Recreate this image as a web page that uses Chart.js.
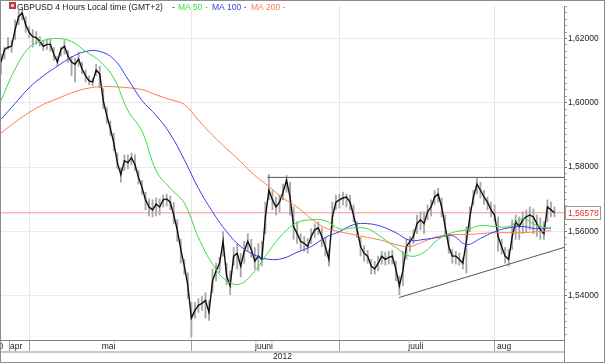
<!DOCTYPE html>
<html>
<head>
<meta charset="utf-8">
<script src="https://cdn.jsdelivr.net/npm/chart.js@4.4.0/dist/chart.umd.min.js"></script>
<style>
  body { margin: 0; background: #fff; }
  #wrap { width: 605px; height: 363px; }
</style>
</head>
<body>
<div id="wrap"><canvas id="chart" width="605" height="363"></canvas></div>
<script>
// GBPUSD 4h, every half trading day (x = half-day index)
const closes = [
  1.6127, 1.6166, 1.6173, 1.6176, 1.6228, 1.6268, 1.6280, 1.6243, 1.6219, 1.6206,
  1.6203, 1.6191, 1.6176, 1.6182, 1.6182, 1.6151, 1.6127, 1.6166, 1.6176, 1.6145,
  1.6127, 1.6120, 1.6136, 1.6105, 1.6084, 1.6068, 1.6065, 1.6102, 1.6090, 1.6007,
  1.5961, 1.5921, 1.5875, 1.5814, 1.5777, 1.5820, 1.5814, 1.5829, 1.5808, 1.5768,
  1.5737, 1.5698, 1.5676, 1.5667, 1.5685, 1.5676, 1.5698, 1.5701, 1.5691, 1.5651,
  1.5605, 1.5544, 1.5492, 1.5431, 1.5330, 1.5354, 1.5370, 1.5376, 1.5385, 1.5348,
  1.5446, 1.5477, 1.5501, 1.5569, 1.5461, 1.5431, 1.5523, 1.5532, 1.5492, 1.5538,
  1.5569, 1.5544, 1.5507, 1.5523, 1.5513, 1.5645, 1.5728, 1.5698, 1.5676, 1.5691,
  1.5722, 1.5759, 1.5707, 1.5615, 1.5593, 1.5569, 1.5563, 1.5553, 1.5584, 1.5605,
  1.5611, 1.5584, 1.5553, 1.5513, 1.5645, 1.5691, 1.5698, 1.5704, 1.5707, 1.5691,
  1.5651, 1.5605, 1.5553, 1.5532, 1.5523, 1.5492, 1.5483, 1.5501, 1.5523, 1.5513,
  1.5519, 1.5523, 1.5483, 1.5431, 1.5477, 1.5553, 1.5569, 1.5584, 1.5624, 1.5636,
  1.5624, 1.5661, 1.5676, 1.5707, 1.5716, 1.5676, 1.5615, 1.5553, 1.5523, 1.5523,
  1.5513, 1.5501, 1.5569, 1.5645, 1.5707, 1.5747, 1.5728, 1.5707, 1.5691, 1.5667,
  1.5651, 1.5584, 1.5553, 1.5523, 1.5513, 1.5584, 1.5630, 1.5615, 1.5636, 1.5645,
  1.5651, 1.5645, 1.5624, 1.5605, 1.5593, 1.5676, 1.5667, 1.5658
];
const highs = [
  1.6151, 1.6173, 1.6203, 1.6194, 1.6258, 1.6289, 1.6292, 1.6268, 1.6237, 1.6228,
  1.6222, 1.6206, 1.6194, 1.6197, 1.6197, 1.6172, 1.6145, 1.6173, 1.6194, 1.6163,
  1.6145, 1.6139, 1.6157, 1.6127, 1.6102, 1.6084, 1.6077, 1.6120, 1.6114, 1.6044,
  1.5985, 1.5943, 1.5906, 1.5844, 1.5798, 1.5838, 1.5838, 1.5844, 1.5838, 1.5789,
  1.5759, 1.5722, 1.5701, 1.5698, 1.5704, 1.5701, 1.5713, 1.5716, 1.5710, 1.5691,
  1.5636, 1.5575, 1.5513, 1.5471, 1.5379, 1.5379, 1.5391, 1.5397, 1.5409, 1.5385,
  1.5483, 1.5501, 1.5519, 1.5599, 1.5501, 1.5477, 1.5550, 1.5562, 1.5532, 1.5569,
  1.5593, 1.5575, 1.5550, 1.5562, 1.5569, 1.5691, 1.5777, 1.5728, 1.5707, 1.5713,
  1.5747, 1.5774, 1.5753, 1.5676, 1.5630, 1.5593, 1.5584, 1.5578, 1.5608, 1.5624,
  1.5630, 1.5611, 1.5581, 1.5544, 1.5691, 1.5713, 1.5716, 1.5722, 1.5716, 1.5713,
  1.5682, 1.5630, 1.5581, 1.5556, 1.5541, 1.5513, 1.5507, 1.5523, 1.5538, 1.5535,
  1.5538, 1.5541, 1.5507, 1.5461, 1.5538, 1.5575, 1.5584, 1.5605, 1.5651, 1.5661,
  1.5661, 1.5682, 1.5698, 1.5728, 1.5734, 1.5704, 1.5651, 1.5593, 1.5544, 1.5538,
  1.5532, 1.5519, 1.5615, 1.5676, 1.5728, 1.5765, 1.5753, 1.5728, 1.5707, 1.5691,
  1.5682, 1.5645, 1.5575, 1.5550, 1.5544, 1.5636, 1.5651, 1.5645, 1.5661, 1.5667,
  1.5676, 1.5670, 1.5651, 1.5642, 1.5630, 1.5698, 1.5691, 1.5676
];
const lows = [
  1.6090, 1.6136, 1.6166, 1.6157, 1.6197, 1.6243, 1.6258, 1.6219, 1.6203, 1.6173,
  1.6182, 1.6176, 1.6163, 1.6166, 1.6160, 1.6133, 1.6114, 1.6145, 1.6151, 1.6127,
  1.6084, 1.6065, 1.6114, 1.6090, 1.6065, 1.6056, 1.6053, 1.6084, 1.6047, 1.5982,
  1.5936, 1.5899, 1.5851, 1.5795, 1.5753, 1.5789, 1.5795, 1.5808, 1.5789, 1.5747,
  1.5716, 1.5667, 1.5648, 1.5645, 1.5648, 1.5651, 1.5676, 1.5679, 1.5667, 1.5624,
  1.5569, 1.5501, 1.5467, 1.5391, 1.5271, 1.5330, 1.5348, 1.5354, 1.5330, 1.5323,
  1.5409, 1.5446, 1.5471, 1.5523, 1.5434, 1.5403, 1.5495, 1.5483, 1.5458, 1.5501,
  1.5538, 1.5519, 1.5483, 1.5477, 1.5492, 1.5593, 1.5698, 1.5667, 1.5651, 1.5661,
  1.5698, 1.5722, 1.5651, 1.5575, 1.5562, 1.5544, 1.5538, 1.5532, 1.5562, 1.5581,
  1.5590, 1.5553, 1.5523, 1.5492, 1.5605, 1.5667, 1.5673, 1.5682, 1.5676, 1.5667,
  1.5630, 1.5581, 1.5523, 1.5507, 1.5501, 1.5467, 1.5467, 1.5477, 1.5498, 1.5495,
  1.5498, 1.5498, 1.5446, 1.5403, 1.5431, 1.5513, 1.5538, 1.5562, 1.5593, 1.5605,
  1.5593, 1.5636, 1.5648, 1.5685, 1.5691, 1.5645, 1.5584, 1.5532, 1.5501, 1.5498,
  1.5495, 1.5483, 1.5471, 1.5599, 1.5682, 1.5716, 1.5704, 1.5685, 1.5667, 1.5645,
  1.5630, 1.5538, 1.5529, 1.5501, 1.5492, 1.5544, 1.5575, 1.5575, 1.5593, 1.5599,
  1.5605, 1.5593, 1.5584, 1.5575, 1.5575, 1.5630, 1.5645, 1.5645
];

// moving averages, read every 4th half-day
const maStep = 4;
const ma50 = [
  1.6007, 1.6105, 1.6172, 1.6194, 1.6200, 1.6191, 1.6160, 1.6130, 1.6077, 1.5976,
  1.5912, 1.5789, 1.5734, 1.5688, 1.5581, 1.5498, 1.5446, 1.5437, 1.5477, 1.5538,
  1.5593, 1.5627, 1.5636, 1.5633, 1.5608, 1.5611, 1.5608, 1.5581, 1.5550, 1.5523,
  1.5535, 1.5575, 1.5596, 1.5605, 1.5618, 1.5615, 1.5615, 1.5639, 1.5618, 1.5608
];
const ma100 = [
  1.5949, 1.5998, 1.6047, 1.6084, 1.6114, 1.6142, 1.6160, 1.6160, 1.6136, 1.6074,
  1.6007, 1.5961, 1.5903, 1.5823, 1.5734, 1.5661, 1.5599, 1.5553, 1.5526, 1.5513,
  1.5516, 1.5535, 1.5553, 1.5581, 1.5599, 1.5621, 1.5624, 1.5615, 1.5596, 1.5572,
  1.5575, 1.5581, 1.5587, 1.5559, 1.5578, 1.5599, 1.5611, 1.5615, 1.5608, 1.5611
];
const ma200 = [
  1.5906, 1.5940, 1.5970, 1.5995, 1.6013, 1.6031, 1.6044, 1.6050, 1.6050, 1.6047,
  1.6041, 1.6025, 1.6010, 1.5995, 1.5946, 1.5899, 1.5857, 1.5817, 1.5774, 1.5740,
  1.5703, 1.5676, 1.5639, 1.5611, 1.5599, 1.5590, 1.5581, 1.5572, 1.5559, 1.5553,
  1.5569, 1.5584, 1.5590, 1.5590, 1.5593, 1.5596, 1.5596, 1.5596, 1.5599, 1.5602
];

const lastPrice = 1.56578;
// drawn trend lines: [x, price] end points
const resistance = [[75.5, 1.5768], [159.7, 1.5768]];
const support = [[112.9, 1.5394], [159.7, 1.5550]];

const monthBounds = [2.3, 8, 54, 96, 140];
const monthLabels = ['30', 'apr', 'mai', 'juuni', 'juuli', 'aug'];
const monthLabelAt = [-0.7, 4.3, 30.5, 74.6, 117.7, 142.7];
const yearLabel = '2012';
const yMajor = [1.54, 1.56, 1.58, 1.60, 1.62];

const green = '#3ddc3d';
const blue = '#3b3bf2';
const orange = '#ff7b4a';
const FONT = '"Liberation Sans", Arial, sans-serif';

Chart.defaults.font.family = FONT;
Chart.defaults.font.size = 8.5;
Chart.defaults.color = '#222';

function isMajor(v) {
  return yMajor.some(m => Math.abs(m - v) < 1e-6);
}
function fmt(v) {
  return v.toFixed(5).replace('.', ',');
}
function pts(arr) {
  return arr.map(p => ({ x: p[0], y: p[1] }));
}

// title, price box and frame
const decor = {
  id: 'decor',
  afterDraw(chart) {
    const ctx = chart.ctx;
    const y = chart.scales.y;
    ctx.save();
    // frame
    ctx.strokeStyle = '#8c8c8c';
    ctx.lineWidth = 1;
    ctx.strokeRect(0.5, 0.5, 604, 362);
    ctx.beginPath();
    ctx.moveTo(chart.chartArea.right + 0.5, chart.chartArea.bottom);
    ctx.lineTo(chart.chartArea.right + 0.5, 363);
    ctx.stroke();

    // title
    ctx.fillStyle = '#b43c3c';
    ctx.fillRect(9, 2, 7, 7);
    ctx.fillStyle = '#f0c0c0';
    ctx.fillRect(11, 4, 3, 3);
    ctx.font = '8.5px ' + FONT;
    ctx.textBaseline = 'alphabetic';
    ctx.textAlign = 'left';
    const pieces = [
      ['GBPUSD 4 Hours Local time (GMT+2)', '#222', 17],
      ['-', '#222', 172],
      ['MA 50 -', green, 178],
      ['MA 100 -', blue, 212],
      ['MA 200 -', orange, 251]
    ];
    pieces.forEach(p => {
      ctx.fillStyle = p[1];
      ctx.fillText(p[0], p[2], 10);
    });

    // last price box
    const py = Math.round(y.getPixelForValue(lastPrice));
    ctx.fillStyle = '#fff';
    ctx.fillRect(566, py - 7, 35, 14);
    ctx.strokeStyle = '#999';
    ctx.strokeRect(565.5, py - 6.5, 35, 13);
    ctx.fillStyle = '#ee3030';
    ctx.textBaseline = 'middle';
    ctx.fillText(fmt(lastPrice), 568, py + 0.5);
    ctx.restore();
  }
};

const ctx = document.getElementById('chart').getContext('2d');
new Chart(ctx, {
  type: 'line',
  data: {
    datasets: [
      {
        label: 'last',
        data: [{ x: 0, y: lastPrice }, { x: 159.7, y: lastPrice }],
        borderColor: '#f29494',
        borderWidth: 1,
        pointRadius: 0,
        order: 6
      },
      {
        type: 'bar',
        label: 'range',
        data: highs.map((h, i) => ({ x: i, y: [lows[i], h] })),
        backgroundColor: '#a8a8a8',
        barThickness: 1.2,
        order: 5
      },
      {
        label: 'close',
        data: closes.map((c, i) => ({ x: i, y: c })),
        borderColor: '#111',
        borderWidth: 1.4,
        pointRadius: 0,
        order: 4
      },
      {
        label: 'MA 200',
        data: ma200.map((v, k) => ({ x: k * maStep, y: v })),
        borderColor: orange,
        borderWidth: 1,
        pointRadius: 0,
        tension: 0.4,
        order: 3
      },
      {
        label: 'MA 100',
        data: ma100.map((v, k) => ({ x: k * maStep, y: v })),
        borderColor: blue,
        borderWidth: 1,
        pointRadius: 0,
        tension: 0.4,
        order: 2
      },
      {
        label: 'MA 50',
        data: ma50.map((v, k) => ({ x: k * maStep, y: v })),
        borderColor: green,
        borderWidth: 1,
        pointRadius: 0,
        tension: 0.4,
        order: 1
      },
      {
        label: 'resistance',
        data: pts(resistance),
        borderColor: '#555',
        borderWidth: 1,
        pointRadius: 0,
        order: 0
      },
      {
        label: 'support',
        data: pts(support),
        borderColor: '#555',
        borderWidth: 1,
        pointRadius: 0,
        order: 0
      }
    ]
  },
  options: {
    responsive: false,
    animation: false,
    layout: { padding: { left: 1, top: 1, right: 0, bottom: 0 } },
    plugins: {
      legend: { display: false },
      tooltip: { enabled: false }
    },
    scales: {
      x: {
        type: 'linear',
        min: 0,
        max: 159.7,
        offset: false,
        weight: 0,
        afterBuildTicks: s => {
          s.ticks = monthBounds.map(v => ({ value: v }))
            .concat(monthLabelAt.map(v => ({ value: v })));
        },
        afterFit: s => { s.height = 12; },
        ticks: {
          autoSkip: false,
          maxRotation: 0,
          padding: -10.5,
          color: '#222',
          callback: (v, i) => i < monthBounds.length ? '' : monthLabels[i - monthBounds.length]
        },
        grid: {
          offset: false,
          tickLength: 12,
          color: c => (c.index > 0 && c.index < monthBounds.length) ? '#e6e6e6' : 'transparent',
          tickColor: c => c.index < monthBounds.length ? '#a0a0a0' : 'transparent'
        },
        border: { display: true, color: '#808080' }
      },
      x2: {
        type: 'linear',
        position: 'bottom',
        min: 0,
        max: 159.7,
        weight: 1,
        afterBuildTicks: s => { s.ticks = [{ value: 79.85 }]; },
        afterFit: s => { s.height = 11; },
        ticks: { padding: 0, color: '#222', callback: () => yearLabel },
        grid: { drawOnChartArea: false, drawTicks: false },
        border: { display: true, color: '#c8c8c8', width: 2 }
      },
      y: {
        position: 'right',
        min: 1.5262,
        max: 1.6301,
        afterBuildTicks: s => {
          const t = [];
          for (let k = 764; k <= 815; k++) t.push({ value: k / 500 });
          s.ticks = t;
        },
        afterFit: s => { s.width = 41; },
        ticks: {
          autoSkip: false,
          padding: 1,
          color: '#222',
          callback: v => isMajor(v) ? fmt(v) : ''
        },
        grid: {
          tickLength: 3,
          color: c => isMajor(c.tick.value) ? '#ebebeb' : 'transparent',
          tickColor: c => isMajor(c.tick.value) ? '#777' : '#aaa'
        },
        border: { display: true, color: '#808080' }
      }
    }
  },
  plugins: [decor]
});
</script>
</body>
</html>
